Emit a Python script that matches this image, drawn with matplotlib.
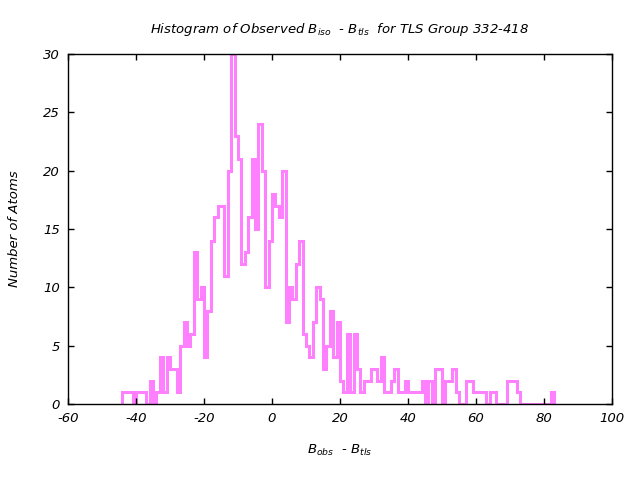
import numpy as np
import matplotlib
matplotlib.use("Agg")
import matplotlib.pyplot as plt

# Histogram data: left bin edge (unit-width bins) and atom count
bin_start = -44
counts = [
    1, 1, 1, 0, 1, 1, 1, 0, 2, 0,        # -44 .. -35
    1, 4, 1, 4, 3, 3, 1, 5, 7, 5,        # -34 .. -25
    6, 13, 9, 10, 4, 8, 14, 16, 17, 17,  # -24 .. -15
    11, 20, 30, 23, 21, 12, 13, 16, 21, 15,  # -14 .. -5
    24, 20, 10, 14, 18, 17, 16, 20, 7, 10,   # -4 .. 5
    9, 12, 14, 6, 5, 4, 7, 10, 9, 3,     # 6 .. 15
    5, 8, 4, 7, 2, 1, 6, 1, 6, 3,        # 16 .. 25
    1, 2, 2, 3, 3, 2, 4, 1, 1, 2,        # 26 .. 35
    3, 1, 1, 2, 1, 1, 1, 1, 2, 0,        # 36 .. 45
    2, 0, 3, 3, 0, 2, 2, 3, 1, 0,        # 46 .. 55
    0, 2, 2, 1, 1, 1, 1, 0, 1, 1,        # 56 .. 65
    0, 0, 0, 2, 2, 2, 1, 0, 0, 0,        # 66 .. 75
    0, 0, 0, 0, 0, 0, 1,                 # 76 .. 82
]
edges = bin_start + np.arange(len(counts) + 1)

x_ticks = [-60, -40, -20, 0, 20, 40, 60, 80, 100]
y_ticks = [0, 5, 10, 15, 20, 25, 30]

plt.rcParams['font.family'] = ['DejaVu Sans']
plt.rcParams['font.style'] = 'italic'
plt.rcParams['mathtext.default'] = 'it'
plt.rcParams['axes.unicode_minus'] = False

fig = plt.figure(figsize=(6.4, 4.8), dpi=100)
ax = fig.add_axes([68/640, 1 - 404/480, 544/640, 350/480])

ax.stairs(counts, edges, baseline=0, color='#ff80ff', linewidth=2.2)

ax.set_xlim(-60, 100)
ax.set_ylim(0, 30)
ax.set_xticks(x_ticks)
ax.set_yticks(y_ticks)
ax.set_xticklabels([str(t) for t in x_ticks])
ax.set_yticklabels([str(t) for t in y_ticks])
ax.tick_params(direction='in', length=4, width=1, top=True, right=True,
               labelsize=9.5, pad=6)
for lab in ax.get_xticklabels() + ax.get_yticklabels():
    lab.set_fontstyle('italic')
for s in ax.spines.values():
    s.set_linewidth(1)

ax.set_title(r'Histogram of Observed B$_{iso}$  - B$_{tls}$  for TLS Group 332-418',
             fontsize=9.5, style='italic', pad=15)
ax.set_xlabel(r'B$_{obs}$  - B$_{tls}$', fontsize=9.5, style='italic', labelpad=13)
ax.set_ylabel('Number of Atoms', fontsize=9.5, style='italic', labelpad=16)

fig.savefig('out.png', dpi=100)
